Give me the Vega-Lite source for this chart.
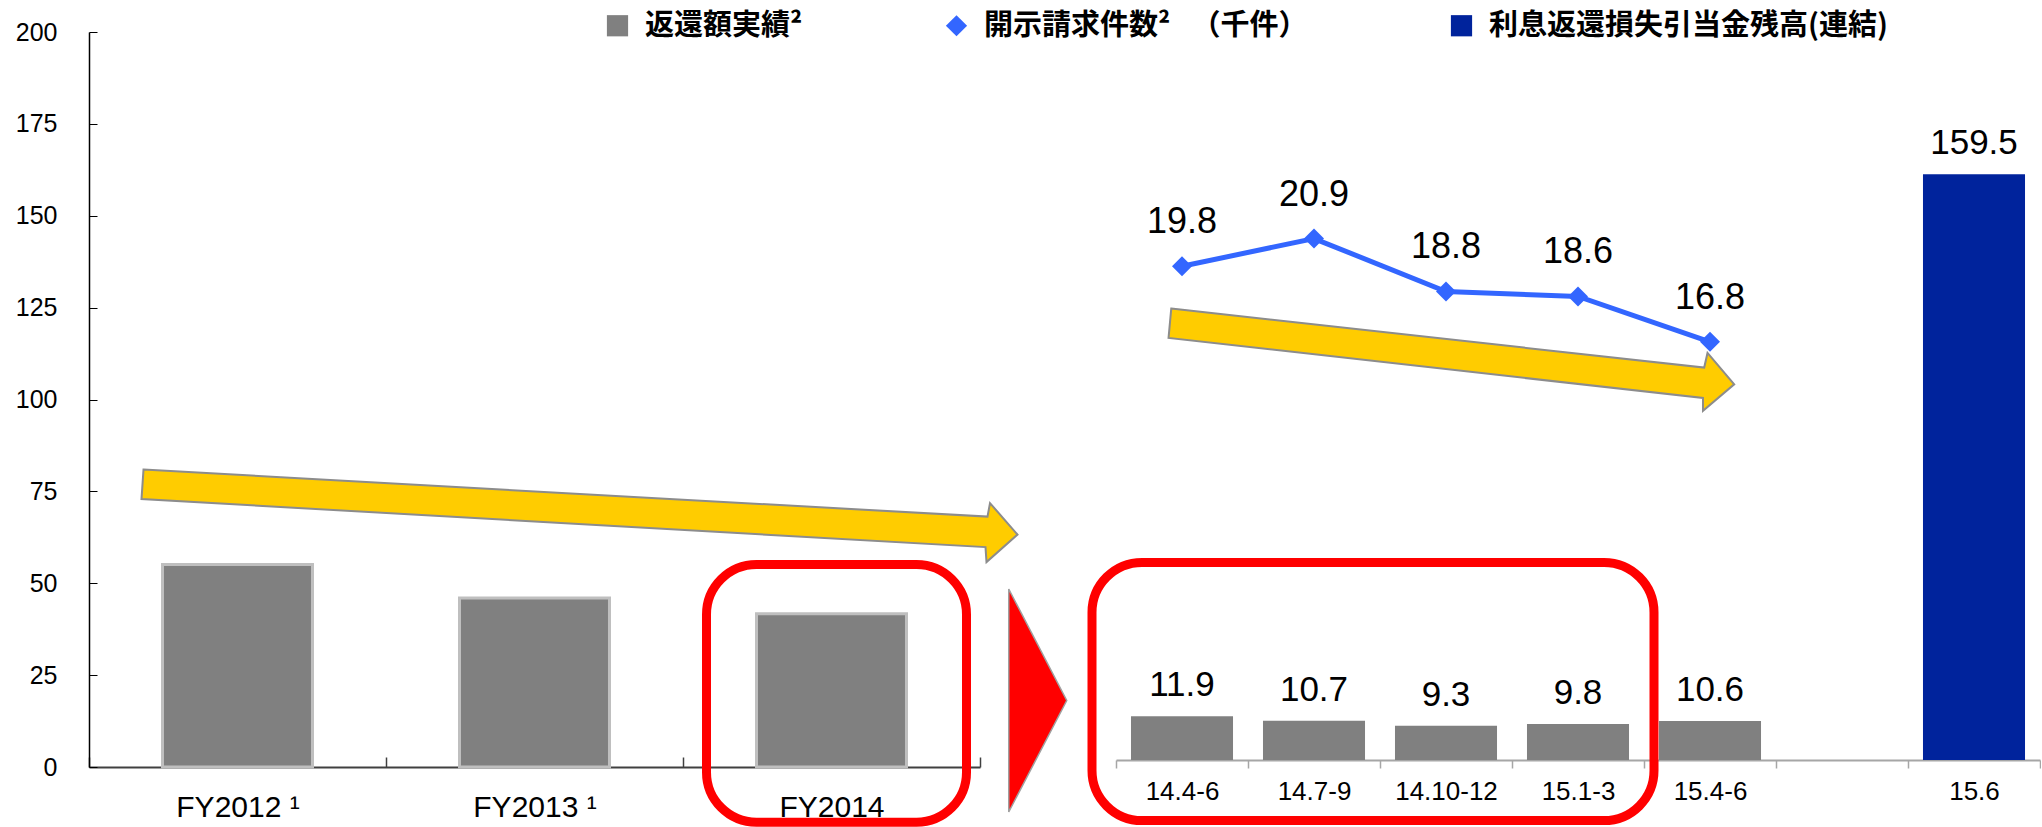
{
  "$schema": "https://vega.github.io/schema/vega-lite/v6.json",
  "padding": {"left": 15, "top": 11, "right": 0, "bottom": 0},
  "spacing": 136,
  "bounds": "flush",
  "resolve": {"scale": {"x": "independent", "y": "independent", "color": "shared", "shape": "shared"}},
  "config": {
    "view": {"stroke": null},
    "font": "Liberation Sans",
    "axis": {"grid": false, "labelFont": "Liberation Sans", "labelColor": "#000000"}
  },
  "hconcat": [
    {
      "width": 891,
      "height": 735,
      "layer": [
        {
          "data": {"values": [
            {"cat": "FY2012 ¹", "v": 55.1, "s": "返還額実績²"},
            {"cat": "FY2013 ¹", "v": 46.0, "s": "返還額実績²"},
            {"cat": "FY2014", "v": 41.7, "s": "返還額実績²"}
          ]},
          "mark": {"type": "bar", "width": {"band": 0.505}, "stroke": "#BFBFBF", "strokeWidth": 3},
          "encoding": {
            "x": {"field": "cat", "type": "nominal", "sort": null, "title": null,
              "scale": {"domain": ["FY2012 ¹", "FY2013 ¹", "FY2014"], "paddingInner": 0, "paddingOuter": 0},
              "axis": {"labelAngle": 0, "labelFontSize": 30, "domainColor": "#404040", "domainWidth": 2, "tickColor": "#404040", "tickWidth": 1.5, "tickSize": -10, "tickBand": "extent", "labelPadding": 35}},
            "y": {"field": "v", "type": "quantitative", "title": null,
              "scale": {"domain": [0, 200], "nice": false},
              "axis": {"values": [0, 25, 50, 75, 100, 125, 150, 175, 200], "labelFontSize": 25, "domainColor": "#000000", "domainWidth": 1.5, "tickColor": "#000000", "tickSize": -8, "labelPadding": 40}},
            "color": {"field": "s", "type": "nominal",
              "scale": {"domain": ["返還額実績²", "開示請求件数² 　（千件）", "利息返還損失引当金残高(連結)"], "range": ["#808080", "#3366FF", "#00239C"]},
              "legend": {"title": null, "orient": "none", "legendX": 514, "legendY": -21, "direction": "horizontal", "columns": 3, "columnPadding": 139, "labelFont": "Noto Sans CJK JP", "labelFontSize": 29, "labelFontWeight": "bold", "labelColor": "#000000", "labelLimit": 0, "symbolSize": 450, "symbolStrokeWidth": 0, "labelOffset": 13, "padding": 0, "symbolOpacity": 1}}
          }
        },
        {
          "data": {"values": [{}]},
          "mark": {"type": "rect", "filled": false, "stroke": "#FF0000", "strokeWidth": 9, "cornerRadius": 50, "xOffset": -125, "x2Offset": 135},
          "encoding": {
            "x": {"datum": "FY2014", "title": null},
            "x2": {"datum": "FY2014"},
            "y": {"datum": 55.1, "title": null},
            "y2": {"datum": -15}
          }
        },
        {
          "data": {"values": [{}]},
          "mark": {"type": "point", "shape": "M -0.782 -0.095 L 0.906 -0.001 L 0.911 -0.028 L 0.966 0.035 L 0.904 0.090 L 0.902 0.060 L -0.786 -0.036 Z", "size": 1000000, "filled": true, "fill": "#FFCC00", "stroke": "#8C8C8C", "strokeWidth": 2, "opacity": 1},
          "encoding": {
            "x": {"datum": "FY2013 ¹", "title": null},
            "y": {"datum": 68, "title": null}
          }
        }
      ]
    },
    {
      "width": 924,
      "height": 728,
      "resolve": {"scale": {"y": "independent"}},
      "layer": [
        {
          "layer": [
            {
              "data": {"values": [
                {"cat": "14.4-6", "v": 11.9, "s": "返還額実績²"},
                {"cat": "14.7-9", "v": 10.7, "s": "返還額実績²"},
                {"cat": "14.10-12", "v": 9.3, "s": "返還額実績²"},
                {"cat": "15.1-3", "v": 9.8, "s": "返還額実績²"},
                {"cat": "15.4-6", "v": 10.6, "s": "返還額実績²"},
                {"cat": "15.6", "v": 159.5, "s": "利息返還損失引当金残高(連結)"}
              ]},
              "layer": [
                {
                  "mark": {"type": "bar", "width": {"band": 0.773}},
                  "encoding": {
                    "x": {"field": "cat", "type": "nominal", "sort": null, "title": null,
                      "scale": {"domain": ["14.4-6", "14.7-9", "14.10-12", "15.1-3", "15.4-6", " ", "15.6"], "paddingInner": 0, "paddingOuter": 0},
                      "axis": {"labelAngle": 0, "labelFontSize": 26, "domainColor": "#A6A6A6", "domainWidth": 2, "tickColor": "#A6A6A6", "tickWidth": 1.5, "tickSize": 8, "tickBand": "extent", "labelPadding": 10}},
                    "y": {"field": "v", "type": "quantitative", "title": null, "scale": {"domain": [0, 198.2], "nice": false}, "axis": null},
                    "color": {"field": "s", "type": "nominal",
                      "scale": {"domain": ["返還額実績²", "開示請求件数² 　（千件）", "利息返還損失引当金残高(連結)"], "range": ["#808080", "#3366FF", "#00239C"]},
                      "legend": {"title": null, "orient": "none", "legendX": 514, "legendY": -21, "direction": "horizontal", "columns": 3, "columnPadding": 139, "labelFont": "Noto Sans CJK JP", "labelFontSize": 29, "labelFontWeight": "bold", "labelColor": "#000000", "labelLimit": 0, "symbolSize": 450, "symbolStrokeWidth": 0, "labelOffset": 13, "padding": 0, "symbolOpacity": 1}}
                  }
                },
                {
                  "mark": {"type": "text", "dy": -20, "fontSize": 35, "baseline": "alphabetic", "font": "Liberation Sans", "color": "#000000"},
                  "encoding": {
                    "x": {"field": "cat", "type": "nominal", "sort": null, "title": null},
                    "y": {"field": "v", "type": "quantitative", "title": null, "axis": null},
                    "text": {"field": "v", "type": "quantitative", "format": ".1f"}
                  }
                }
              ]
            },
            {
              "data": {"values": [{}]},
              "mark": {"type": "rect", "filled": false, "stroke": "#FF0000", "strokeWidth": 9, "cornerRadius": 50, "xOffset": -90, "x2Offset": 76},
              "encoding": {
                "x": {"datum": "14.4-6", "title": null},
                "x2": {"datum": "15.1-3"},
                "y": {"datum": 53.8, "title": null, "axis": null},
                "y2": {"datum": -16.5}
              }
            },
            {
              "data": {"values": [{}]},
              "mark": {"type": "point", "shape": "M -1.7325 -1.115 L -1.1525 0 L -1.7325 1.115 Z", "size": 40000, "filled": true, "fill": "#FF0000", "stroke": "#A0A0A0", "strokeWidth": 1.5, "opacity": 1},
              "encoding": {
                "x": {"datum": "14.4-6", "title": null},
                "y": {"datum": 16.2, "title": null, "axis": null}
              }
            },
            {
              "data": {"values": [{}]},
              "mark": {"type": "point", "shape": "M -1.3825 -0.18 L 0.394 0.0167 L 0.405 -0.032 L 0.494 0.0723 L 0.390 0.161 L 0.390 0.118 L -1.3915 -0.082 Z", "size": 360000, "xOffset": 8, "filled": true, "fill": "#FFCC00", "stroke": "#8C8C8C", "strokeWidth": 2, "opacity": 1},
              "encoding": {
                "x": {"datum": "15.1-3", "title": null},
                "y": {"datum": 108.2, "title": null, "axis": null}
              }
            }
          ]
        },
        {
          "data": {"values": [
            {"cat": "14.4-6", "n": 19.8, "s": "開示請求件数² 　（千件）"},
            {"cat": "14.7-9", "n": 20.9, "s": "開示請求件数² 　（千件）"},
            {"cat": "14.10-12", "n": 18.8, "s": "開示請求件数² 　（千件）"},
            {"cat": "15.1-3", "n": 18.6, "s": "開示請求件数² 　（千件）"},
            {"cat": "15.4-6", "n": 16.8, "s": "開示請求件数² 　（千件）"}
          ]},
          "layer": [
            {
              "mark": {"type": "line", "color": "#3366FF", "strokeWidth": 5},
              "encoding": {
                "x": {"field": "cat", "type": "nominal", "sort": null, "title": null},
                "y": {"field": "n", "type": "quantitative", "title": null, "scale": {"domain": [0.2, 29.1], "nice": false, "zero": false}, "axis": null},
                "order": {"value": null}
              }
            },
            {
              "mark": {"type": "point", "filled": true, "size": 400, "opacity": 1},
              "encoding": {
                "x": {"field": "cat", "type": "nominal", "sort": null, "title": null},
                "y": {"field": "n", "type": "quantitative", "title": null, "axis": null},
                "color": {"field": "s", "type": "nominal",
                  "scale": {"domain": ["返還額実績²", "開示請求件数² 　（千件）", "利息返還損失引当金残高(連結)"], "range": ["#808080", "#3366FF", "#00239C"]},
                  "legend": {"title": null, "orient": "none", "legendX": 514, "legendY": -21, "direction": "horizontal", "columns": 3, "columnPadding": 139, "labelFont": "Noto Sans CJK JP", "labelFontSize": 29, "labelFontWeight": "bold", "labelColor": "#000000", "labelLimit": 0, "symbolSize": 450, "symbolStrokeWidth": 0, "labelOffset": 13, "padding": 0, "symbolOpacity": 1}},
                "shape": {"field": "s", "type": "nominal",
                  "scale": {"domain": ["返還額実績²", "開示請求件数² 　（千件）", "利息返還損失引当金残高(連結)"], "range": ["square", "diamond", "square"]},
                  "legend": {"title": null, "orient": "none", "legendX": 514, "legendY": -21, "direction": "horizontal", "columns": 3, "columnPadding": 139, "labelFont": "Noto Sans CJK JP", "labelFontSize": 29, "labelFontWeight": "bold", "labelColor": "#000000", "labelLimit": 0, "symbolSize": 450, "symbolStrokeWidth": 0, "labelOffset": 13, "padding": 0, "symbolOpacity": 1}}
              }
            },
            {
              "mark": {"type": "text", "dy": -33, "fontSize": 36, "baseline": "alphabetic", "font": "Liberation Sans", "color": "#000000"},
              "encoding": {
                "x": {"field": "cat", "type": "nominal", "sort": null, "title": null},
                "y": {"field": "n", "type": "quantitative", "title": null, "axis": null},
                "text": {"field": "n", "type": "quantitative", "format": ".1f"}
              }
            }
          ]
        }
      ]
    }
  ]
}
